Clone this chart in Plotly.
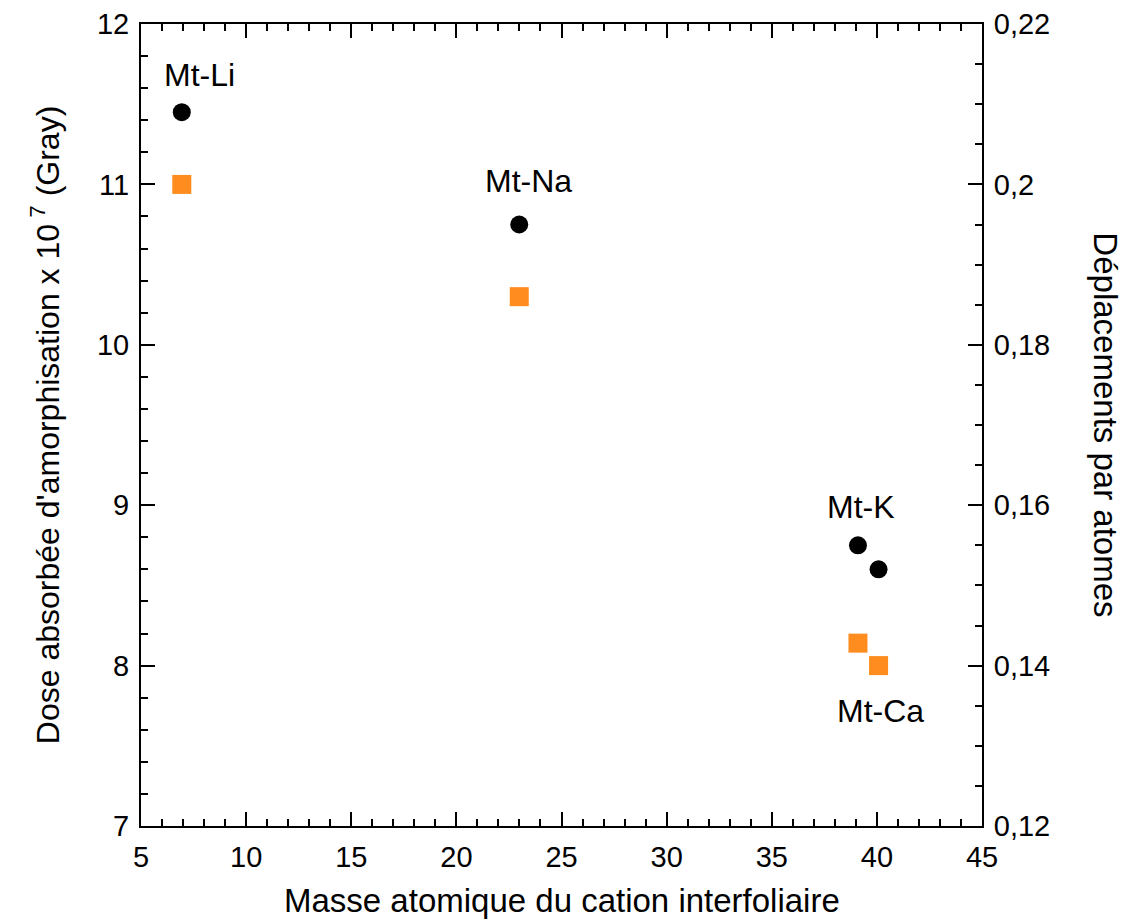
import plotly.graph_objects as go

# Data
cations = ["Mt-Li", "Mt-Na", "Mt-K", "Mt-Ca"]
masse_atomique = [6.94, 22.99, 39.10, 40.08]
dose_amorphisation = [11.45, 10.75, 8.75, 8.6]          # x 10^7 Gray (left axis)
deplacements_par_atome = [0.200, 0.186, 0.1428, 0.140]  # dpa (right axis)

x_ticks = [5, 10, 15, 20, 25, 30, 35, 40, 45]
y_left_ticks = [7, 8, 9, 10, 11, 12]
y_right_ticks = [0.12, 0.14, 0.16, 0.18, 0.20, 0.22]
y_right_ticklabels = ["0,12", "0,14", "0,16", "0,18", "0,2", "0,22"]

# label placement (layout only)
label_pos = {"Mt-Li": (7.76, 11.68), "Mt-Na": (23.43, 11.02),
             "Mt-K": (39.24, 8.99), "Mt-Ca": (40.19, 7.72)}

FONT = "Liberation Sans, Arial, sans-serif"
TICK_SIZE = 29
TITLE_SIZE = 33
LABEL_SIZE = 32

fig = go.Figure()
fig.add_trace(go.Scatter(
    x=masse_atomique, y=dose_amorphisation, mode="markers",
    marker=dict(symbol="circle", size=18, color="black"),
    showlegend=False, yaxis="y"))
fig.add_trace(go.Scatter(
    x=masse_atomique, y=deplacements_par_atome, mode="markers",
    marker=dict(symbol="square", size=19, color="#FF8C1E", line=dict(width=0)),
    showlegend=False, yaxis="y2"))

for name in cations:
    px, py = label_pos[name]
    fig.add_annotation(x=px, y=py, xref="x", yref="y", text=name,
                       showarrow=False, font=dict(size=LABEL_SIZE, color="black", family=FONT))

axis_common = dict(showgrid=False, zeroline=False, showline=True, linecolor="black",
                   linewidth=2, ticks="inside", ticklen=14, tickwidth=1.5,
                   tickcolor="black", ticklabelstandoff=4, automargin=False,
                   tickfont=dict(size=TICK_SIZE, family=FONT, color="black"))

fig.update_layout(
    width=1122, height=916,
    margin=dict(l=133, r=148, t=16, b=98, pad=0, autoexpand=False),
    paper_bgcolor="white", plot_bgcolor="white",
    font=dict(family=FONT, color="black"),
    xaxis=dict(range=[5, 45], tickvals=x_ticks, mirror="ticks",
               minor=dict(dtick=1, ticks="inside", ticklen=7, tickwidth=1.5, tickcolor="black"),
               **axis_common),
    yaxis=dict(range=[7, 12], tickvals=y_left_ticks,
               minor=dict(dtick=0.2, ticks="inside", ticklen=7, tickwidth=1.5, tickcolor="black"),
               **axis_common),
    yaxis2=dict(range=[0.12, 0.22], overlaying="y", side="right",
                tickvals=y_right_ticks, ticktext=y_right_ticklabels,
                minor=dict(dtick=0.005, ticks="inside", ticklen=7, tickwidth=1.5, tickcolor="black"),
                **axis_common),
)

# axis titles
fig.add_annotation(xref="paper", yref="paper", x=0.5, y=-0.093,
                   text="Masse atomique du cation interfoliaire", showarrow=False,
                   font=dict(size=TITLE_SIZE, family=FONT, color="black"),
                   xanchor="center", yanchor="middle")
fig.add_annotation(xref="paper", yref="paper", x=-0.114, y=0.5,
                   text="Dose absorbée d'amorphisation x 10<sup> 7</sup> (Gray)",
                   textangle=-90, showarrow=False,
                   font=dict(size=32, family=FONT, color="black"),
                   xanchor="center", yanchor="middle")
fig.add_annotation(xref="paper", yref="paper", x=1.147, y=0.5,
                   text="Déplacements par atomes", textangle=90, showarrow=False,
                   font=dict(size=TITLE_SIZE, family=FONT, color="black"),
                   xanchor="center", yanchor="middle")

fig.write_html("out.html")
